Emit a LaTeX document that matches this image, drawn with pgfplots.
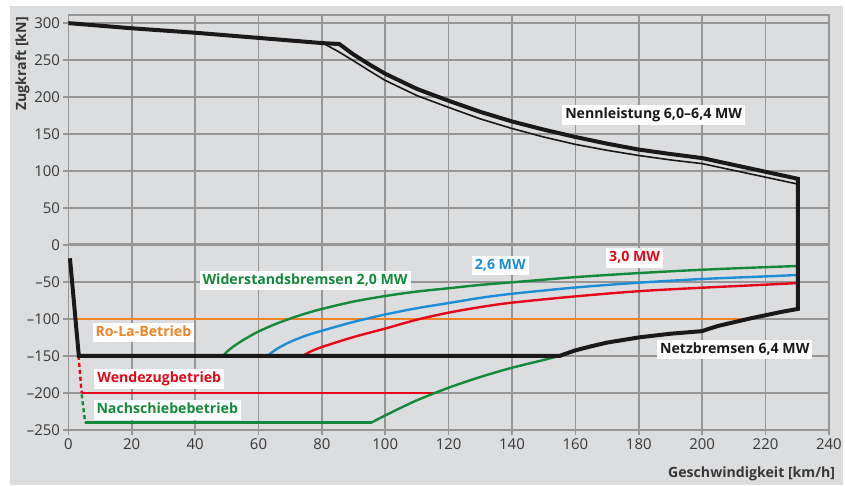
\documentclass[border=0pt]{standalone}
\usepackage{pgfplots}
\pgfplotsset{compat=1.18}
\usepackage{fontspec}
\setmainfont{Open Sans}
\definecolor{panel}{RGB}{220,221,223}
\definecolor{gridc}{RGB}{150,150,150}
\definecolor{blk}{RGB}{26,24,24}
\definecolor{grn}{RGB}{18,138,58}
\definecolor{blu}{RGB}{28,142,215}
\definecolor{rd}{RGB}{228,8,24}
\definecolor{org}{RGB}{242,132,40}
\definecolor{txt}{RGB}{55,55,55}
\tikzset{lab/.style={fill=white,inner xsep=3bp,inner ysep=2.5bp,text height=10.8bp,text depth=3.4bp,font=\fontsize{14.2}{15}\selectfont\bfseries}}
\begin{document}
\begin{tikzpicture}
\fill[white] (-68.5bp,-55.3bp) rectangle (776.5bp,430.7bp);
\fill[panel] (-58.5bp,-55.3bp) rectangle (776.5bp,424.7bp);
\begin{axis}[
  at={(0,0)}, anchor=south west,
  width=762bp, height=415.7bp, scale only axis,
  xmin=0, xmax=240, ymin=-250, ymax=311,
  xtick={0,20,40,60,80,100,120,140,160,180,200,220,240},
  ytick={-250,-200,-150,-100,-50,0,50,100,150,200,250,300},
  yticklabels={–250,–200,–150,–100,–50,0,50,100,150,200,250,300},
  tick pos=left, tick align=outside, major tick length=5bp,
  every tick/.style={gridc, line width=1.6bp},
  xmajorgrids=true, ymajorgrids=true,
  every major grid/.style={draw=gridc, line width=1.6bp},
  axis line style={gridc, line width=1.6bp},
  /pgf/number format/assume math mode=true,
  ticklabel style={font=\fontsize{15}{16}\selectfont, text=txt},
  xlabel={Geschwindigkeit [km/h]},
  ylabel={Zugkraft [kN]},
  xlabel style={at={(axis description cs:1.0085,-0.1066)}, anchor=east, font=\fontsize{14.2}{15}\selectfont\bfseries, text=txt, inner sep=0pt},
  ylabel style={at={(axis description cs:-0.0604,0.882)}, anchor=center, font=\fontsize{14.2}{15}\selectfont\bfseries, text=txt, inner sep=0pt},
  clip=false,
]
% zero line
\addplot[gridc, line width=3bp] coordinates {(0,0) (240,0)};
% Ro-La
\addplot[org, line width=2.4bp] coordinates {(2.8,-100) (214,-100)};
% Wendezug
\addplot[rd, line width=2.4bp, dash pattern=on 4bp off 3bp] coordinates {(3.2,-150) (4.2,-200)};
\addplot[rd, line width=2.4bp] coordinates {(4.2,-200) (115.7,-200)};
% Nachschiebe
\addplot[grn, line width=2.4bp, dash pattern=on 4bp off 3bp] coordinates {(4.2,-202) (5.3,-240)};
\addplot[grn, line width=2.4bp, smooth] coordinates {(95.7,-240) (100,-230.5) (105,-220) (110,-210) (120,-193) (130,-178.5) (140,-166) (150,-155.5) (155,-150)};
\addplot[grn, line width=2.4bp] coordinates {(5.3,-240) (95.7,-240)};
% Widerstandsbremsen 2,0 MW
\addplot[grn, line width=2.4bp, smooth] coordinates {(48.8,-150) (50,-144.5) (52,-137.5) (55,-129) (58,-121.5) (60,-117) (65,-107.5) (70,-99.5) (75,-92.5) (80,-86.5) (90,-76.5) (100,-69) (110,-63) (120,-58.5) (130,-54) (140,-50.5) (160,-43.5) (180,-38) (200,-33.5) (220,-30) (230,-28.5)};
% 2,6 MW
\addplot[blu, line width=2.4bp, smooth] coordinates {(62.9,-150) (64,-146) (66,-140) (70,-131) (75,-122.5) (80,-116) (90,-104) (100,-94) (110,-85.5) (120,-78.5) (130,-71.5) (140,-66) (160,-57.5) (180,-51) (200,-46) (220,-42.5) (230,-40.6)};
% 3,0 MW
\addplot[rd, line width=2.4bp, smooth] coordinates {(74,-150) (76,-145) (80,-138) (90,-124.5) (100,-113) (110,-101) (120,-91.5) (130,-84) (140,-78) (160,-69.5) (180,-62.5) (200,-57.8) (220,-53.7) (230,-51.5)};
% thin 6,0 MW
\addplot[blk, line width=1.6bp] coordinates {(80.3,273) (85,262) (90,249) (95,235.5) (100,222.5) (110,202) (120,186) (130,170.5) (140,157.5) (150,146) (160,136) (170,128) (180,121) (190,115) (200,110) (230,82.5)};
% thick envelope
\addplot[blk, line width=4bp] coordinates {(0.5,-18) (3.3,-150) (155,-150) (160,-142.5) (165,-137) (170,-132) (180,-125) (190,-120) (200,-116.5) (201,-115) (205,-109.5) (210,-104.5) (215,-99.5) (220,-95) (225,-90.5) (230.2,-86.5) (230.2,89.5) (200,117.5) (190,123) (180,129) (170,137) (160,146) (150,156) (140,167) (130,180) (120,195) (110,211) (100,231.5) (95,244) (90,257.5) (85.5,271.7) (80,273) (60,280) (40,287) (20,293) (0,300)};
% labels
\node[lab, text=blk] at (axis cs:184.7,175.8) {Nennleistung 6,0–6,4 MW};
\node[lab, text=blk] at (axis cs:210.3,-141.8) {Netzbremsen 6,4 MW};
\node[lab, text=rd] at (axis cs:178.7,-17.7) {3,0 MW};
\node[lab, text=blu] at (axis cs:136.3,-28.1) {2,6 MW};
\node[lab, text=grn] at (axis cs:74.7,-47.8) {Widerstandsbremsen 2,0 MW};
\node[lab, text=org] at (axis cs:23.7,-118.6) {Ro-La-Betrieb};
\node[lab, text=rd] at (axis cs:28.7,-181.3) {Wendezugbetrieb};
\node[lab, text=grn] at (axis cs:31.2,-223.1) {Nachschiebebetrieb};
\end{axis}
\end{tikzpicture}
\end{document}
